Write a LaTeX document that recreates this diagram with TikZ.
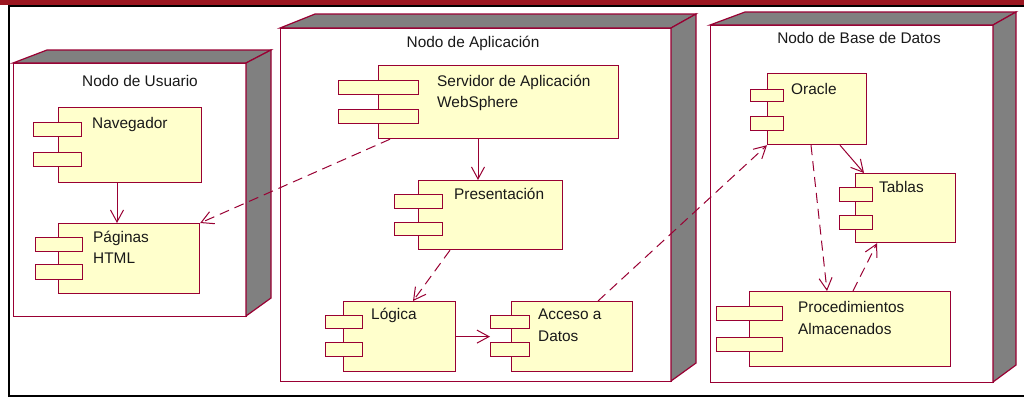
\documentclass[tikz,border=0pt]{standalone}
\usepackage{fontspec}
\setmainfont{Liberation Sans}
\usetikzlibrary{arrows.meta,calc}
\definecolor{rose}{RGB}{153,0,51}
\definecolor{compyel}{RGB}{255,255,204}
\definecolor{nodegray}{RGB}{128,128,128}
\definecolor{barred}{RGB}{155,22,32}
\begin{document}
\begin{tikzpicture}[x=1pt,y=-1pt,
  face/.style={draw=rose,line width=1.2pt,fill=white,inner sep=0pt,anchor=north west},
  sideface/.style={draw=rose,line width=1.2pt,fill=nodegray,line join=miter},
  comp/.style={draw=rose,line width=1.2pt,fill=compyel,inner sep=0pt,anchor=north west},
  port/.style={draw=rose,line width=1.2pt,fill=compyel,inner sep=0pt,anchor=north west},
  lbl/.style={inner sep=0pt,anchor=base west,font=\fontsize{15.4}{18}\selectfont,text=black!90},
  ttl/.style={inner sep=0pt,anchor=base,font=\fontsize{15.4}{18}\selectfont,text=black!90},
  dep/.style={draw=rose,line width=1pt,dash pattern=on 10pt off 6pt,-{Straight Barb[length=12pt,width=13pt]}},
  assoc/.style={draw=rose,line width=1pt,-{Straight Barb[length=12pt,width=13pt]}},
]
\useasboundingbox (0,0) rectangle (1024,397);
\fill[white] (0,0) rectangle (1024,397);
% frame
\fill[barred] (0,0) rectangle (1024,4.5);
\draw[black,line width=2pt] (9,397) -- (9,6) -- (1024,6);
\draw[black,line width=2pt] (9,395.5) -- (1024,395.5);

% deployment nodes
\node[face,minimum width=233pt,minimum height=253pt] (usr) at (13,63) {};
\draw[sideface] (13,63) -- (47,50) -- (271,50) -- (246,63) -- cycle;
\draw[sideface] (246,63) -- (271,50) -- (271,298) -- (246,316) -- cycle;
\node[ttl] (usrT) at (140,86) {Nodo de Usuario};

\node[face,minimum width=391pt,minimum height=353pt] (app) at (280,28) {};
\draw[sideface] (280,28) -- (315,14) -- (696,14) -- (671,28) -- cycle;
\draw[sideface] (671,28) -- (696,14) -- (696,363) -- (671,381) -- cycle;
\node[ttl] (appT) at (473,47) {Nodo de Aplicación};

\node[face,minimum width=283pt,minimum height=357pt] (db) at (710,25) {};
\draw[sideface] (710,25) -- (745,12) -- (1016,12) -- (993,25) -- cycle;
\draw[sideface] (993,25) -- (1016,12) -- (1016,365) -- (993,382) -- cycle;
\node[ttl] (dbT) at (859,43) {Nodo de Base de Datos};

% components
\node[comp,minimum width=143pt,minimum height=75pt] (nav) at (58,107) {};
\node[port,minimum width=48pt,minimum height=14pt] (navp1) at (33,122) {};
\node[port,minimum width=48pt,minimum height=14pt] (navp2) at (33,152) {};
\node[lbl] (navL) at (92,128) {Navegador};

\node[comp,minimum width=141pt,minimum height=70pt] (pag) at (58,223) {};
\node[port,minimum width=47pt,minimum height=14pt] (pagp1) at (35,237) {};
\node[port,minimum width=47pt,minimum height=15pt] (pagp2) at (35,264) {};
\node[lbl] (pagL1) at (93,242) {Páginas};
\node[lbl] (pagL2) at (93,263) {HTML};

\node[comp,minimum width=240pt,minimum height=73pt] (srv) at (378,65) {};
\node[port,minimum width=80pt,minimum height=14pt] (srvp1) at (338,80) {};
\node[port,minimum width=80pt,minimum height=14pt] (srvp2) at (338,109) {};
\node[lbl] (srvL1) at (437,86) {Servidor de Aplicación};
\node[lbl] (srvL2) at (437,107) {WebSphere};

\node[comp,minimum width=144pt,minimum height=69pt] (pres) at (418,180) {};
\node[port,minimum width=48pt,minimum height=14pt] (presp1) at (394,194) {};
\node[port,minimum width=48pt,minimum height=13pt] (presp2) at (394,222) {};
\node[lbl] (presL) at (454,199) {Presentación};

\node[comp,minimum width=112pt,minimum height=70pt] (log) at (343,301) {};
\node[port,minimum width=37pt,minimum height=13pt] (logp1) at (325,315) {};
\node[port,minimum width=37pt,minimum height=14pt] (logp2) at (325,342) {};
\node[lbl] (logL) at (371,319) {Lógica};

\node[comp,minimum width=121pt,minimum height=70pt] (acc) at (511,301) {};
\node[port,minimum width=39pt,minimum height=13pt] (accp1) at (490,315) {};
\node[port,minimum width=39pt,minimum height=14pt] (accp2) at (490,342) {};
\node[lbl] (accL1) at (538,319) {Acceso a};
\node[lbl] (accL2) at (538,341) {Datos};

\node[comp,minimum width=99pt,minimum height=71pt] (ora) at (767,73) {};
\node[port,minimum width=33pt,minimum height=12pt] (orap1) at (750,89) {};
\node[port,minimum width=33pt,minimum height=14pt] (orap2) at (750,116) {};
\node[lbl] (oraL) at (791,94) {Oracle};

\node[comp,minimum width=100pt,minimum height=69pt] (tab) at (855,173) {};
\node[port,minimum width=33pt,minimum height=14pt] (tabp1) at (839,187) {};
\node[port,minimum width=33pt,minimum height=14pt] (tabp2) at (839,215) {};
\node[lbl] (tabL) at (879,192) {Tablas};

\node[comp,minimum width=201pt,minimum height=75pt] (proc) at (749,291) {};
\node[port,minimum width=66pt,minimum height=14pt] (procp1) at (716,306) {};
\node[port,minimum width=66pt,minimum height=14pt] (procp2) at (716,337) {};
\node[lbl] (procL1) at (798,312) {Procedimientos};
\node[lbl] (procL2) at (798,334) {Almacenados};

% connectors
\draw[assoc] ([xshift=59pt]nav.south west) coordinate (c1) -- (c1 |- pag.north);
\draw[dep] ([xshift=12pt]srv.south west) -- (pag.north east);
\draw[assoc] ([xshift=100pt]srv.south west) coordinate (c3) -- (c3 |- pres.north);
\draw[dep] ([xshift=32pt]pres.south west) -- ([xshift=70pt]log.north west);
\draw[assoc] (log.east) -- (log.east -| accp2.west);
\draw[dep] ([xshift=87pt]acc.north west) -- (ora.south west);
\draw[assoc] ([xshift=73pt]ora.south west) -- ([xshift=9pt]tab.north west);
\draw[dep] ([xshift=44pt]ora.south west) -- ([xshift=78pt]proc.north west);
\draw[dep] ([xshift=104pt]proc.north west) -- ([xshift=22pt]tab.south west);
\end{tikzpicture}
\end{document}
